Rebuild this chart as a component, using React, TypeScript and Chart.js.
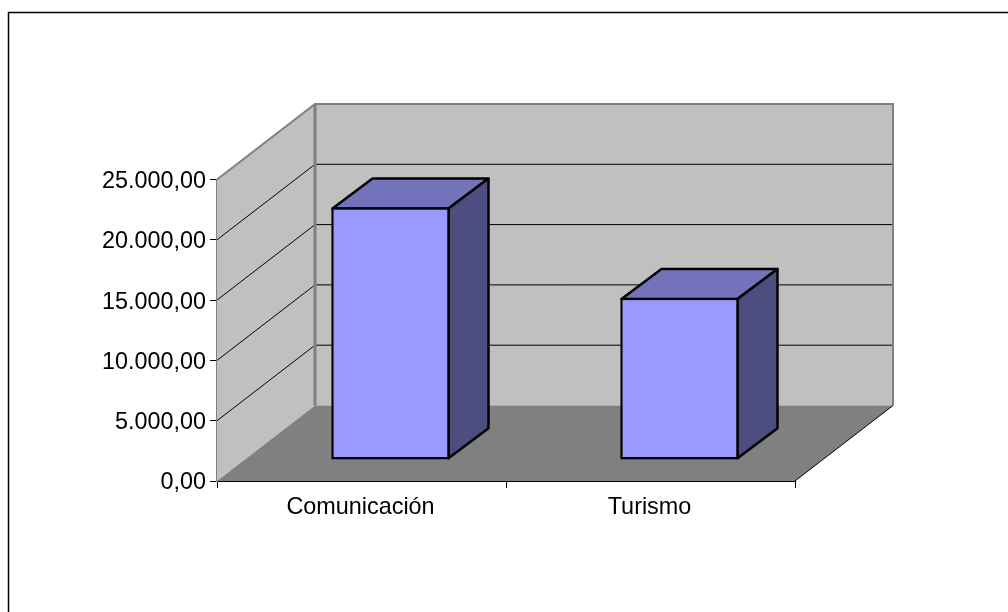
import React, { useEffect, useRef } from "react";
import { Chart, registerables } from "chart.js";

Chart.register(...registerables);

const categories = ["Comunicación", "Turismo"];
const seriesValues = [20950, 13450];
const yTickStep = 5000;
const yMax = 25000;

const DEPTH_X = 98;
const DEPTH_Y = 75.5;
const BAR_SHIFT_X = 29;
const BAR_SHIFT_Y = 21;
const BAR_DEPTH_X = 40;
const BAR_DEPTH_Y = 30;
const BAR_LINE = 2.5;

const formatTick = (v: number) =>
  v.toLocaleString("de-DE", { minimumFractionDigits: 2, maximumFractionDigits: 2 });

const poly = (ctx: CanvasRenderingContext2D, pts: number[][], fill?: string, stroke?: string, lw = 1) => {
  ctx.beginPath();
  pts.forEach(([x, y], i) => (i ? ctx.lineTo(x, y) : ctx.moveTo(x, y)));
  ctx.closePath();
  if (fill) { ctx.fillStyle = fill; ctx.fill(); }
  if (stroke) { ctx.strokeStyle = stroke; ctx.lineWidth = lw; ctx.lineJoin = "round"; ctx.stroke(); }
};

const walls3d = {
  id: "walls3d",
  beforeDatasetsDraw(chart: any) {
    const { ctx, chartArea: a, scales } = chart;
    const { left: l, right: r, top: t, bottom: b } = a;
    ctx.save();
    poly(ctx, [[l, b], [l + DEPTH_X, b - DEPTH_Y], [l + DEPTH_X, t - DEPTH_Y], [l, t]], "#c0c0c0");
    poly(ctx, [[l + DEPTH_X, b - DEPTH_Y], [r + DEPTH_X, b - DEPTH_Y], [r + DEPTH_X, t - DEPTH_Y], [l + DEPTH_X, t - DEPTH_Y]], "#c0c0c0");
    ctx.strokeStyle = "#000000";
    ctx.lineWidth = 1;
    for (const tick of scales.y.ticks) {
      if (tick.value === 0 || tick.value === yMax) continue;
      const y = scales.y.getPixelForValue(tick.value);
      ctx.beginPath();
      ctx.moveTo(l, y);
      ctx.lineTo(l + DEPTH_X, y - DEPTH_Y);
      ctx.lineTo(r + DEPTH_X, y - DEPTH_Y);
      ctx.stroke();
    }
    ctx.strokeStyle = "#808080";
    ctx.lineWidth = 2;
    ctx.beginPath();
    ctx.moveTo(l, t);
    ctx.lineTo(l + DEPTH_X, t - DEPTH_Y);
    ctx.lineTo(r + DEPTH_X, t - DEPTH_Y);
    ctx.lineTo(r + DEPTH_X, b - DEPTH_Y);
    ctx.stroke();
    ctx.lineWidth = 3;
    ctx.beginPath();
    ctx.moveTo(l + DEPTH_X, t - DEPTH_Y);
    ctx.lineTo(l + DEPTH_X, b - DEPTH_Y);
    ctx.stroke();
    poly(ctx, [[l, b], [r, b], [r + DEPTH_X, b - DEPTH_Y], [l + DEPTH_X, b - DEPTH_Y]], "#808080");
    ctx.strokeStyle = "#000000";
    ctx.lineWidth = 1;
    ctx.beginPath();
    ctx.moveTo(r, b);
    ctx.lineTo(r + DEPTH_X, b - DEPTH_Y);
    ctx.stroke();
    const meta = chart.getDatasetMeta(0);
    ctx.translate(BAR_SHIFT_X, -BAR_SHIFT_Y);
    const inset = BAR_LINE / 2;
    for (const bar of meta.data) {
      const { x, y, base, width } = bar.getProps(["x", "y", "base", "width"], true);
      const x0 = x - width / 2 + inset;
      const x1 = x + width / 2 - inset;
      const yt = y + inset;
      const yb = base - inset;
      poly(ctx, [[x0, yt], [x1, yt], [x1 + BAR_DEPTH_X, yt - BAR_DEPTH_Y], [x0 + BAR_DEPTH_X, yt - BAR_DEPTH_Y]], "#7373bb", "#000000", BAR_LINE);
      poly(ctx, [[x1, yt], [x1 + BAR_DEPTH_X, yt - BAR_DEPTH_Y], [x1 + BAR_DEPTH_X, yb - BAR_DEPTH_Y], [x1, yb]], "#4d4d80", "#000000", BAR_LINE);
    }
    ctx.restore();
    ctx.save();
    ctx.translate(BAR_SHIFT_X, -BAR_SHIFT_Y);
  },
  afterDatasetsDraw(chart: any) {
    chart.ctx.restore();
  },
};

const frame = {
  id: "frame",
  afterDraw(chart: any) {
    const { ctx } = chart;
    ctx.save();
    ctx.strokeStyle = "#000000";
    ctx.lineWidth = 1.5;
    ctx.beginPath();
    ctx.moveTo(8.5, chart.height);
    ctx.lineTo(8.5, 12.5);
    ctx.lineTo(chart.width, 12.5);
    ctx.stroke();
    ctx.restore();
  },
};

export default function App() {
  const ref = useRef<HTMLCanvasElement>(null);
  useEffect(() => {
    const chart = new Chart(ref.current!, {
      type: "bar",
      data: {
        labels: categories,
        datasets: [
          {
            data: seriesValues,
            backgroundColor: "#9999ff",
            borderColor: "#000000",
            borderWidth: BAR_LINE,
            borderSkipped: false,
            barPercentage: 0.41,
            categoryPercentage: 1,
            clip: false,
          },
        ],
      },
      options: {
        animation: false,
        responsive: false,
        layout: { padding: { left: 0, top: 179.5, right: 1008 - 795, bottom: 0 } },
        plugins: { legend: { display: false }, tooltip: { enabled: false } },
        scales: {
          x: {
            offset: true,
            afterFit(scale: any) { scale.height = 612 - 481; },
            border: { color: "#000000", width: 1 },
            grid: { drawOnChartArea: false, drawTicks: true, tickLength: 7, tickColor: "#000000", offset: true },
            ticks: { color: "#000000", font: { family: "Liberation Sans", size: 23.4 }, padding: 6, maxRotation: 0, labelOffset: -1 },
          },
          y: {
            min: 0,
            max: yMax,
            afterFit(scale: any) { scale.width = 217; },
            border: { color: "#808080", width: 2 },
            grid: { drawOnChartArea: false, drawTicks: true, tickLength: 7, tickColor: "#000000" },
            ticks: { stepSize: yTickStep, color: "#000000", font: { family: "Liberation Sans", size: 23.4 }, padding: 4, labelOffset: 2, callback: (v: any) => formatTick(Number(v)) },
          },
        },
      },
      plugins: [walls3d, frame],
    } as any);
    return () => chart.destroy();
  }, []);
  return (
    <canvas
      ref={ref}
      width={1008}
      height={612}
      style={{ position: "fixed", left: 0, top: 0, display: "block", width: 1008, height: 612 }}
    />
  );
}
